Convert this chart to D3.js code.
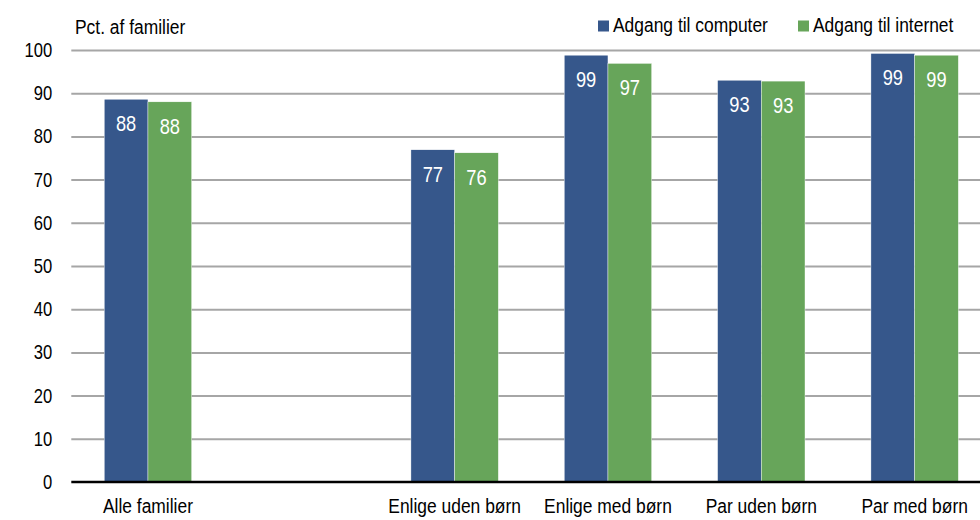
<!DOCTYPE html>
<html><head><meta charset="utf-8">
<script src="https://cdn.jsdelivr.net/npm/d3@7"></script>
<style>
body{margin:0;background:#fff;}
text{font-family:"Liberation Sans Narrow","Arial Narrow","Liberation Sans",Arial,sans-serif;}
</style></head>
<body><svg id="c" width="980" height="520"></svg>
<script>
const categories = ["Alle familier", "", "Enlige uden børn", "Enlige med børn", "Par uden børn", "Par med børn"];
const seriesNames = ["Adgang til computer", "Adgang til internet"];
const computer = [88.6, null, 76.9, 98.8, 93.0, 99.2];
const internet = [88.0, null, 76.2, 96.9, 92.8, 98.8];
const labelsComputer = ["88", "", "77", "99", "93", "99"];
const labelsInternet = ["88", "", "76", "97", "93", "99"];
const yTicks = [0, 10, 20, 30, 40, 50, 60, 70, 80, 90, 100];
const colors = ["#36578b", "#67a55a"];

const svg = d3.select("#c");
const pLeft = 71.3, pRight = 991.3, pTop = 50, pBottom = 482;
const keys = categories.map((c, i) => "k" + i);
const x = d3.scaleBand().domain(keys).range([pLeft, pRight]).paddingInner(0.43).paddingOuter(0.215);
const xs = d3.scaleBand().domain(seriesNames).range([0, x.bandwidth()]);
const y = d3.scaleLinear().domain([0, 100]).range([pBottom, pTop]);

// gridlines
const grid = svg.append("g").attr("transform", `translate(${pLeft},0)`)
  .call(d3.axisLeft(y).tickValues(yTicks.filter(t => t > 0)).tickSize(-(980 - pLeft)).tickFormat(""));
grid.select(".domain").remove();
grid.selectAll("line").attr("stroke", "#a6a6a6").attr("stroke-width", 2);

// y tick labels
const ya = svg.append("g").attr("transform", `translate(${pLeft},0)`)
  .call(d3.axisLeft(y).tickValues(yTicks).tickSize(0).tickPadding(19));
ya.select(".domain").remove();
ya.selectAll("text").attr("font-size", 20).attr("fill", "#000")
  .style("font-family", '"Liberation Sans Narrow","Arial Narrow","Liberation Sans",Arial,sans-serif');

// bars
const data = [computer, internet];
const labels = [labelsComputer, labelsInternet];
seriesNames.forEach((s, si) => {
  const g = svg.append("g");
  const rows = categories.map((c, i) => ({k: keys[i], v: data[si][i], l: labels[si][i]})).filter(d => d.v != null);
  g.selectAll("rect").data(rows).join("rect")
    .attr("x", d => x(d.k) + xs(s))
    .attr("y", d => y(d.v))
    .attr("width", xs.bandwidth())
    .attr("height", d => y(0) - y(d.v))
    .attr("fill", colors[si])
    .attr("stroke", "#ffffff").attr("stroke-width", 0.4);
  g.selectAll("text").data(rows).join("text")
    .attr("x", d => x(d.k) + xs(s) + xs.bandwidth() / 2)
    .attr("y", d => y(d.v) + 32)
    .attr("text-anchor", "middle")
    .attr("font-size", 22)
    .attr("fill", "#fff")
    .text(d => d.l);
});

// baseline axis
svg.append("line").attr("x1", pLeft).attr("x2", 980).attr("y1", y(0)).attr("y2", y(0))
  .attr("stroke", "#000").attr("stroke-width", 2.5);

// x category labels
const xa = svg.append("g").attr("transform", `translate(0,${pBottom})`)
  .call(d3.axisBottom(x).tickSize(0).tickPadding(0).tickFormat((k, i) => categories[i]));
xa.select(".domain").remove();
xa.selectAll("text").attr("font-size", 21).attr("fill", "#000").attr("dy", null).attr("y", 31)
  .style("font-family", '"Liberation Sans Narrow","Arial Narrow","Liberation Sans",Arial,sans-serif');

// title
svg.append("text").attr("x", 75).attr("y", 34).attr("font-size", 21).text("Pct. af familier");

// legend
const legX = [598, 798];
seriesNames.forEach((s, i) => {
  svg.append("rect").attr("x", legX[i]).attr("y", 20.5).attr("width", 11).attr("height", 11).attr("fill", colors[i]);
  svg.append("text").attr("x", legX[i] + 15).attr("y", 31.7).attr("font-size", 21).text(s);
});

// emulate a narrow typeface by condensing each text horizontally around its anchor
svg.selectAll("text").each(function() {
  const t = d3.select(this);
  const tx = +t.attr("x") || 0, ty = +t.attr("y") || 0;
  t.attr("x", 0).attr("y", 0).attr("transform", `translate(${tx},${ty}) scale(0.83,1)`);
});
</script></body></html>
